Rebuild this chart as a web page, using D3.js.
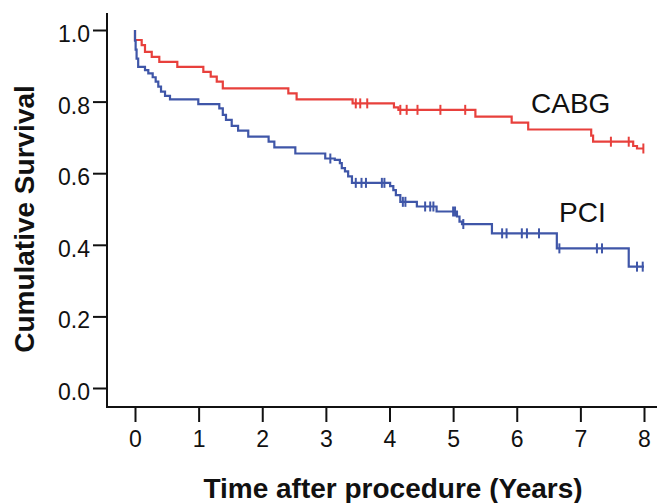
<!DOCTYPE html>
<html>
<head>
<meta charset="utf-8">
<script src="https://cdn.jsdelivr.net/npm/d3@7"></script>
<style>
  body { margin: 0; background: #fff; }
  text { font-family: Arial, "Liberation Sans", sans-serif; }
</style>
</head>
<body>
<div id="chart"></div>
<script>
// Kaplan-Meier data
const cabgTime = [0, 0.105, 0.157, 0.263, 0.382, 0.665, 1.074, 1.19, 1.285, 1.38, 2.41, 2.54, 3.42, 4.07, 4.14, 5.35, 5.92, 6.18, 7.17, 7.2, 7.83, 7.89];
const cabgSurv = [0.972, 0.958, 0.939, 0.925, 0.911, 0.897, 0.883, 0.870, 0.856, 0.837, 0.823, 0.806, 0.795, 0.784, 0.777, 0.758, 0.741, 0.722, 0.705, 0.688, 0.676, 0.669];
const cabgCensor = [3.47, 3.54, 3.65, 4.17, 4.27, 4.44, 4.80, 5.19, 7.48, 7.76, 7.99];

const pciTime = [0, 0.01, 0.025, 0.05, 0.157, 0.209, 0.278, 0.325, 0.366, 0.409, 0.472, 0.55, 0.995, 1.325, 1.38, 1.43, 1.52, 1.62, 1.78, 2.10, 2.19, 2.52, 2.99, 3.14, 3.22, 3.25, 3.30, 3.35, 3.41, 4.01, 4.06, 4.10, 4.17, 4.43, 4.74, 5.06, 5.10, 5.14, 5.61, 6.63, 7.76];
const pciSurv = [0.97, 0.945, 0.92, 0.897, 0.888, 0.879, 0.868, 0.856, 0.842, 0.828, 0.816, 0.806, 0.793, 0.781, 0.763, 0.749, 0.732, 0.719, 0.702, 0.688, 0.672, 0.655, 0.641, 0.637, 0.628, 0.614, 0.605, 0.591, 0.573, 0.564, 0.553, 0.539, 0.520, 0.507, 0.493, 0.479, 0.465, 0.458, 0.432, 0.390, 0.339];
const pciCensor = [3.07, 3.47, 3.56, 3.63, 3.88, 3.92, 4.21, 4.25, 4.56, 4.64, 4.69, 5.00, 5.03, 5.16, 5.77, 5.84, 6.08, 6.16, 6.35, 6.67, 7.26, 7.34, 7.89, 7.98];

const endTime = 8.0;
const xTicks = [0, 1, 2, 3, 4, 5, 6, 7, 8];
const yTicks = [0, 0.2, 0.4, 0.6, 0.8, 1.0];

const width = 657, height = 503;
const axisX = 107, axisY = 407;

const svg = d3.select("#chart").append("svg")
    .attr("width", width)
    .attr("height", height);

const x = d3.scaleLinear().domain([0, 8]).range([135, 644]);
const y = d3.scaleLinear().domain([0, 1]).range([388, 30]);

// axes
const xAxis = svg.append("g")
    .attr("transform", `translate(0,${axisY})`)
    .call(d3.axisBottom(x).tickValues(xTicks).tickFormat(d3.format("d")).tickSize(15).tickPadding(9));
const yAxis = svg.append("g")
    .attr("transform", `translate(${axisX},0)`)
    .call(d3.axisLeft(y).tickValues(yTicks).tickFormat(d3.format(".1f")).tickSize(14).tickPadding(3));

[xAxis, yAxis].forEach(a => {
    a.select(".domain").remove();
    a.selectAll(".tick line").attr("stroke", "#111").attr("stroke-width", 2);
    a.selectAll(".tick text")
        .attr("fill", "#111")
        .style("font-size", "23px");
});
yAxis.selectAll(".tick text").attr("dy", "0.5em");

svg.append("line")
    .attr("x1", axisX).attr("x2", axisX)
    .attr("y1", 13).attr("y2", axisY + 1)
    .attr("stroke", "#111").attr("stroke-width", 2);
svg.append("line")
    .attr("x1", axisX - 1).attr("x2", width)
    .attr("y1", axisY).attr("y2", axisY)
    .attr("stroke", "#111").attr("stroke-width", 2);

// survival step curves
const line = d3.line()
    .x(d => x(d[0]))
    .y(d => y(d[1]))
    .curve(d3.curveStepAfter);

function survAt(times, surv, t) {
    let s = 1;
    for (let i = 0; i < times.length; i++) {
        if (times[i] <= t) s = surv[i];
    }
    return s;
}

function drawCurve(times, surv, censor, color) {
    const pts = [[0, 1]].concat(times.map((t, i) => [t, surv[i]]));
    pts.push([endTime, surv[surv.length - 1]]);
    svg.append("path")
        .attr("d", line(pts))
        .attr("fill", "none")
        .attr("stroke", color)
        .attr("stroke-width", 2.2);

    svg.selectAll(null)
        .data(censor)
        .enter().append("line")
        .attr("x1", d => x(d)).attr("x2", d => x(d))
        .attr("y1", d => y(survAt(times, surv, d)) - 5)
        .attr("y2", d => y(survAt(times, surv, d)) + 5)
        .attr("stroke", color)
        .attr("stroke-width", 2);
}

drawCurve(cabgTime, cabgSurv, cabgCensor, "#e8403c");
drawCurve(pciTime, pciSurv, pciCensor, "#3f56a8");

// labels
svg.append("text")
    .attr("x", 531).attr("y", 113)
    .style("font-size", "28px")
    .attr("fill", "#111")
    .text("CABG");
svg.append("text")
    .attr("x", 559).attr("y", 222)
    .style("font-size", "28px")
    .attr("fill", "#111")
    .text("PCI");

svg.append("text")
    .attr("transform", "translate(34,219) rotate(-90)")
    .attr("text-anchor", "middle")
    .style("font-size", "28px")
    .style("font-weight", "bold")
    .attr("fill", "#111")
    .text("Cumulative Survival");
svg.append("text")
    .attr("x", 393).attr("y", 498)
    .attr("text-anchor", "middle")
    .style("font-size", "28px")
    .style("font-weight", "bold")
    .attr("fill", "#111")
    .text("Time after procedure (Years)");
</script>
</body>
</html>
